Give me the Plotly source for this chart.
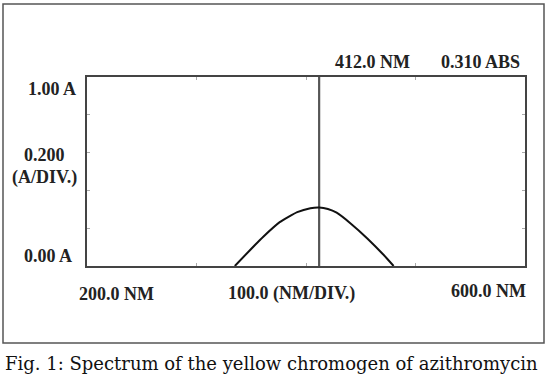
import plotly.graph_objects as go

# Spectrum data (wavelength nm, absorbance)
wavelength_nm = [335, 349, 361, 376, 392, 404, 412, 420, 428, 441, 456, 471, 480]
absorbance = [0.0, 0.085, 0.155, 0.232, 0.285, 0.306, 0.310, 0.302, 0.282, 0.224, 0.146, 0.058, 0.0]
peak_nm = 412.0
peak_abs = 0.310
x_range = [200, 600]
y_range = [0, 1.0]
x_ticks = [300, 400, 500]
y_ticks = [0.2, 0.4, 0.6, 0.8]

W, H = 550, 385
def px(x): return x / W
def py(y): return 1 - y / H

fig = go.Figure()
fig.add_trace(go.Scatter(x=[peak_nm, peak_nm], y=y_range, mode="lines",
                         line=dict(color="#555555", width=2.2), hoverinfo="skip"))
fig.add_trace(go.Scatter(x=wavelength_nm, y=absorbance, mode="lines",
                         line=dict(color="#111111", width=2, shape="spline", smoothing=0.5),
                         hoverinfo="skip"))

axis_common = dict(showgrid=False, zeroline=False, showticklabels=False,
                   showline=True, linecolor="#444444", linewidth=2.2, mirror="ticks",
                   ticks="inside", ticklen=3, tickcolor="#aaaaaa", tickwidth=1)
fig.update_xaxes(range=x_range, tickvals=x_ticks, domain=[px(87), px(525)], **axis_common)
fig.update_yaxes(range=y_range, tickvals=y_ticks, domain=[py(266), py(77)], **axis_common)

font = dict(family="Liberation Serif", size=18, color="#222222")
def label(text, x, y, xanchor="center", bold=True, f=font):
    fig.add_annotation(text=("<b>%s</b>" % text) if bold else text, x=px(x), y=py(y),
                       xref="paper", yref="paper", xanchor=xanchor, yanchor="middle",
                       showarrow=False, font=f)

label("1.00 A", 78, 89, "right")
label("0.200", 44, 155)
label("(A/DIV.)", 44, 177)
label("0.00 A", 74, 256, "right")
label("200.0 NM", 116, 294)
label("100.0 (NM/DIV.)", 291, 293)
label("600.0 NM", 488, 291)
label("%.1f NM" % peak_nm, 372, 62)
label("%.3f ABS" % peak_abs, 480, 62)
label("Fig. 1: Spectrum of the yellow chromogen of azithromycin", 3, 363, "left", bold=False,
      f=dict(family="DejaVu Serif", size=18, color="#111111"))

fig.add_shape(type="rect", xref="paper", yref="paper", x0=px(3), x1=px(544), y0=py(343), y1=py(4),
              line=dict(color="#555555", width=1.5))

fig.update_layout(width=W, height=H, margin=dict(l=0, r=0, t=0, b=0),
                  paper_bgcolor="white", plot_bgcolor="white", showlegend=False)
fig.write_html("out.html", config={"displayModeBar": False, "staticPlot": True},
               post_script="document.body.style.margin='0';document.body.style.overflow='hidden';")
